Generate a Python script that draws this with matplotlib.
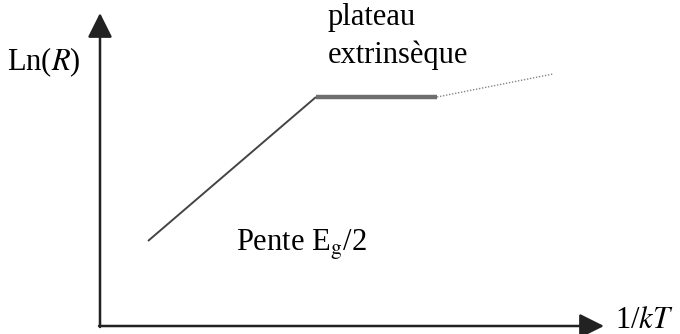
import matplotlib.pyplot as plt

plt.rcParams['font.family'] = ['Liberation Serif', 'DejaVu Serif']
plt.rcParams['mathtext.fontset'] = 'stix'

# schematic Ln(R) vs 1/kT, in drawing units (x right, y down)
slope_x = [148, 316]
slope_y = [241, 97]
plateau_x = [316, 437]
plateau_y = [97, 97]
dotted_x = [437, 553]
dotted_y = [97, 74]

origin = (100, 326)
x_tip = 604
y_tip = 13

fig = plt.figure(figsize=(6.8, 3.34), dpi=100)
ax = fig.add_axes([0, 0, 1, 1])
ax.set_xlim(0, 680)
ax.set_ylim(334, 0)
ax.axis("off")

# axes with arrow heads
head = "-|>,head_length=1.5,head_width=0.75"
ax.annotate("", xy=(x_tip, origin[1]), xytext=(origin[0] - 1, origin[1]),
            arrowprops=dict(arrowstyle=head, color="#222222", lw=1.8,
                            shrinkA=0, shrinkB=0))
ax.annotate("", xy=(origin[0], y_tip), xytext=(origin[0], origin[1] + 1),
            arrowprops=dict(arrowstyle=head, color="#222222", lw=1.8,
                            shrinkA=0, shrinkB=0))

# curve
ax.plot(slope_x, slope_y, color="#444444", lw=1.4, solid_capstyle="butt")
ax.plot(plateau_x, plateau_y, color="#6e6e6e", lw=3.2, solid_capstyle="butt")
ax.plot(dotted_x, dotted_y, color="#888888", lw=1.0, ls=(0, (1, 1.2)))

fs = 22
ax.text(7, 62, "Ln($\\mathit{R}$)", fontsize=fs, va="center", ha="left")
ax.text(328, 17, "plateau", fontsize=fs, va="center", ha="left")
ax.text(328, 55, "extrinsèque", fontsize=fs, va="center", ha="left")
ax.text(236, 245, "Pente E$_\\mathrm{g}$/2", fontsize=fs, va="center", ha="left")
ax.text(615, 320, "1/$\\mathit{kT}$", fontsize=fs, va="center", ha="left")

fig.savefig("out.png", dpi=100)
